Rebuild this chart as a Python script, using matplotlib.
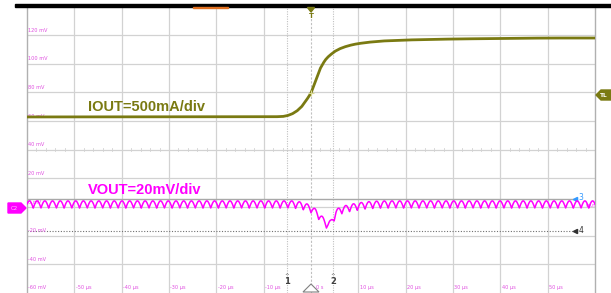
"""
Load-step scope capture: IOUT step and VOUT ripple / undershoot.
"""

import numpy as np
import matplotlib
matplotlib.use("Agg")
import matplotlib.pyplot as plt
from matplotlib.patches import Polygon, Rectangle


# ---------------------------------------------------------------
# Data (time in us, level in screen mV)
# ---------------------------------------------------------------
iout_t = [-60, -10, -8, -6, -5, -4, -3, -2, -1, -0.5, 0, 0.5, 1, 1.5, 2, 2.5,
          3, 3.5, 4, 5, 6, 7, 8, 9, 10, 12, 15, 20, 25, 30, 40, 50, 60]
iout_mv = [62.9, 63.0, 63.0, 63.2, 63.8, 65.0, 67.0, 70.0, 74.5, 77.0, 79.6,
           84.0, 88.5, 93.0, 97.0, 100.0, 102.6, 104.5, 106.0, 108.6, 110.4,
           111.7, 112.7, 113.5, 114.1, 115.0, 115.9, 116.6, 117.0, 117.3,
           117.7, 118.0, 118.0]

# VOUT: bottom of the ripple (valleys) and ripple size
vout_t = [-60, -4, -3, -2, -1, 0, 1, 2, 3, 3.6, 4.2, 4.7, 5.3, 6, 7, 8, 9,
          11, 13, 16, 60]
vout_base_mv = [-0.7, -0.7, -1.0, -1.6, -2.6, -4.0, -6.5, -10.0, -14.0, -15.5,
                -14.0, -11.0, -7.0, -5.2, -4.2, -3.4, -2.7, -1.6, -1.0, -0.7,
                -0.7]
RIPPLE_MV = 5.0
RIPPLE_PERIOD_US = 1.63

grid_mv = [120, 100, 80, 60, 40, 20, 0, -20, -40]
mv_labels = ["120 mV", "100 mV", "80 mV", "60 mV", "40 mV", "20 mV", "0 mV",
             "-20 mV", "-40 mV"]
grid_us = [-50, -40, -30, -20, -10, 10, 20, 30, 40, 50]
us_labels = ["-50 µs", "-40 µs", "-30 µs", "-20 µs", "-10 µs",
             "10 µs", "20 µs", "30 µs", "40 µs", "50 µs"]

cursor_t = [-5.0, 4.65]        # cursors 1 and 2
cursor_mv = [5.6, -16.7]       # cursors 3 and 4

OLIVE = "#7a7a12"
MAGENTA = "#ff00ff"
LABEL_PINK = "#e050e0"
GRID = "#d2d2d2"

W, H = 611, 293


def px(x, y):
    """Pixel position (from top-left) -> figure fraction."""
    return x / W, 1 - y / H


fig = plt.figure(figsize=(W / 100, H / 100), dpi=100)
fig.patch.set_facecolor("white")
ax = fig.add_axes([27 / W, 0, (595 - 27) / W, (H - 6.5) / H])
ax.set_xlim(-60, 60)
ax.set_ylim(-60, 140)
ax.set_xticks([])
ax.set_yticks([])
for side in ("top", "bottom"):
    ax.spines[side].set_visible(False)
for side in ("left", "right"):
    ax.spines[side].set_color("#b0b0b0")
    ax.spines[side].set_linewidth(1.0)

# grid
for v in grid_mv:
    ax.axhline(v, color=GRID, lw=0.9, zorder=1)
for t in grid_us:
    ax.axvline(t, color=GRID, lw=0.9, zorder=1)
# minor ticks on the centre line
for t in np.arange(-60, 61, 2):
    ax.plot([t, t], [39, 41], color=GRID, lw=0.6, zorder=1)

# trigger and cursors
ax.axvline(0, color="#c0c0c0", lw=0.8, ls=(0, (2, 1.5)), zorder=2)
for t in cursor_t:
    ax.axvline(t, color="#c0c0c0", lw=0.8, ls=(0, (1, 1.2)), zorder=2)
ax.plot([-60, 55.4], [cursor_mv[0]] * 2, color="#a8a8a8", lw=1.0, zorder=2)
ax.plot([-60, 55.4], [cursor_mv[1]] * 2, color="#707070", lw=0.8,
        ls=(0, (1, 1.5)), zorder=2)
ax.plot(55.8, cursor_mv[0], marker="<", ms=3, color="#3399ff", zorder=3)
ax.text(56.5, cursor_mv[0] + 1, "3", color="#3399ff", fontsize=5.5,
        va="center", ha="left", zorder=3)
ax.plot(55.8, cursor_mv[1], marker="<", ms=3, color="#303030", zorder=3)
ax.text(56.5, cursor_mv[1], "4", color="#303030", fontsize=5.5,
        va="center", ha="left", zorder=3)

# scale labels
for v, lab in zip(grid_mv, mv_labels):
    ax.text(-59.8, v + 3.5, lab, color=LABEL_PINK, fontsize=3.6,
            va="center", ha="left", zorder=3)
ax.text(-59.8, -56, "-60 mV", color=LABEL_PINK, fontsize=3.6,
        va="center", ha="left", zorder=3)
for t, lab in zip(grid_us, us_labels):
    ax.text(t + 0.3, -56, lab, color=LABEL_PINK, fontsize=3.6,
            va="center", ha="left", zorder=3)
ax.text(1.0, -56, "0 s", color=LABEL_PINK, fontsize=3.6,
        va="center", ha="left", zorder=3)

# traces
t = np.linspace(-60, 60, 6001)
iout = np.interp(t, iout_t, iout_mv)
vout = np.interp(t, vout_t, vout_base_mv) + \
    RIPPLE_MV * np.abs(np.sin(np.pi * t / RIPPLE_PERIOD_US))
ax.plot(t, iout, color=OLIVE, lw=2.0, zorder=4, solid_capstyle="butt")
ax.plot(t, vout, color=MAGENTA, lw=1.1, zorder=4)
ax.plot(0, np.interp(0, iout_t, iout_mv), marker="+", ms=5, mew=0.8,
        color="#d8d890", zorder=5)

ax.text(-47.1, 69.8, "IOUT=500mA/div", color=OLIVE, fontsize=10.5,
        fontweight="bold", family="Liberation Sans", va="center", ha="left",
        zorder=5)
ax.text(-47.1, 11.9, "VOUT=20mV/div", color=MAGENTA, fontsize=10.5,
        fontweight="bold", family="Liberation Sans", va="center", ha="left",
        zorder=5)
ax.text(58.0, 1.0, "VOUT", color=MAGENTA, fontsize=2.6, va="center",
        ha="left", zorder=5)

# screen furniture outside the graticule
fig.patches.append(Rectangle(px(15, 6.8), (W - 15) / W, 2.8 / H,
                             transform=fig.transFigure, color="black"))
fig.patches.append(Rectangle(px(193, 7.8), 35 / W, 1.2 / H,
                             transform=fig.transFigure, color="#e07020"))

# channel 2 ground marker
c2 = [px(8, 203), px(21, 203), px(26, 208), px(21, 213), px(8, 213)]
fig.patches.append(Polygon(c2, closed=True, transform=fig.transFigure,
                           color=MAGENTA))
fig.text(*px(14.5, 208.5), "C2", color="#ffc0ff", fontsize=4,
         ha="center", va="center")

# trigger level marker
tl = [px(611, 90), px(601, 90), px(596, 95), px(601, 100), px(611, 100)]
fig.patches.append(Polygon(tl, closed=True, transform=fig.transFigure,
                           color=OLIVE))
fig.text(*px(604, 95.5), "TL", color="white", fontsize=4.2,
         fontweight="bold", ha="center", va="center")

# trigger position marker
trig = [px(307.5, 7.5), px(314.5, 7.5), px(311, 12)]
fig.patches.append(Polygon(trig, closed=True, transform=fig.transFigure,
                           color=OLIVE))
fig.text(*px(311, 16), "T", color=OLIVE, fontsize=5, fontweight="bold",
         ha="center", va="center")

# cursor flags and time reference at the bottom
for x, lab in ((287, "1"), (333, "2")):
    fig.text(*px(x, 275.5), "^", color="#404040", fontsize=4,
             ha="center", va="center")
    fig.text(*px(x, 282), lab, color="#404040", fontsize=6,
             fontweight="bold", ha="center", va="center")
tri = [px(303, 292), px(319, 292), px(311, 284)]
fig.patches.append(Polygon(tri, closed=True, transform=fig.transFigure,
                           facecolor="white", edgecolor="#808080", lw=0.8))

fig.savefig("out.png", dpi=100, facecolor="white")
